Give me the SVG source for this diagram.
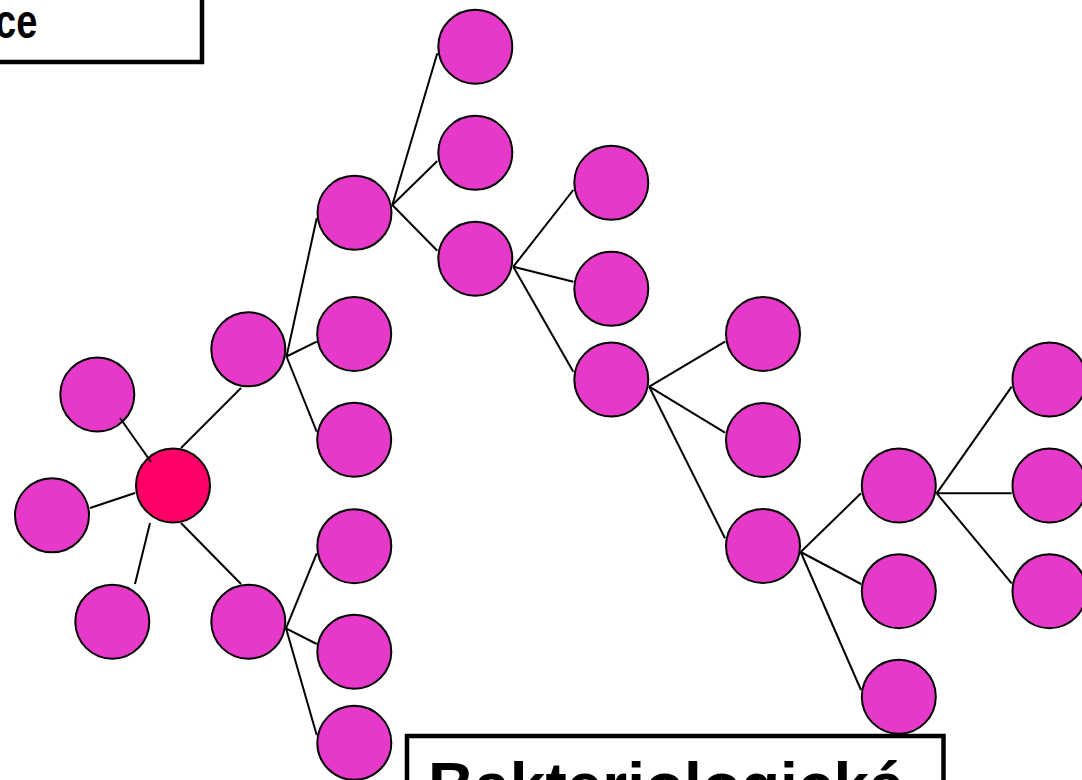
<svg xmlns="http://www.w3.org/2000/svg" width="1082" height="780" viewBox="0 0 1082 780">
<style>
.n{fill:#E639C9;stroke:#000;stroke-width:2}
.root{fill:#FF0066;stroke:#000;stroke-width:2}
.c line{stroke:#000;stroke-width:2}
.box{fill:#fff;stroke:#000;stroke-width:4.5}
.t{font-family:"Liberation Sans",Arial,sans-serif;font-weight:bold;fill:#000}
</style>
<rect width="1082" height="780" fill="#fff"/>
<g id="nodes">
<g id="n-root"><circle class="root" cx="173" cy="485.5" r="37"/></g>
<g id="n-a1"><circle class="n" cx="97.3" cy="394.5" r="37"/></g>
<g id="n-a2"><circle class="n" cx="52" cy="515.3" r="37"/></g>
<g id="n-a3"><circle class="n" cx="112.3" cy="621.7" r="37"/></g>
<g id="n-b1"><circle class="n" cx="248.3" cy="349.3" r="37"/></g>
<g id="n-b2"><circle class="n" cx="248.3" cy="621.7" r="37"/></g>
<g id="n-c1"><circle class="n" cx="354.5" cy="212.8" r="37"/></g>
<g id="n-c2"><circle class="n" cx="354.2" cy="334" r="37"/></g>
<g id="n-c3"><circle class="n" cx="354.2" cy="439.7" r="37"/></g>
<g id="n-c4"><circle class="n" cx="354.3" cy="546.2" r="37"/></g>
<g id="n-c5"><circle class="n" cx="354.3" cy="651.7" r="37"/></g>
<g id="n-c6"><circle class="n" cx="354.3" cy="742.8" r="37"/></g>
<g id="n-d1"><circle class="n" cx="475.3" cy="46.7" r="37"/></g>
<g id="n-d2"><circle class="n" cx="475.3" cy="152.8" r="37"/></g>
<g id="n-d3"><circle class="n" cx="475.3" cy="258.7" r="37"/></g>
<g id="n-e1"><circle class="n" cx="611.3" cy="182.8" r="37"/></g>
<g id="n-e2"><circle class="n" cx="611.3" cy="288.8" r="37"/></g>
<g id="n-e3"><circle class="n" cx="611.3" cy="379.5" r="37"/></g>
<g id="n-f1"><circle class="n" cx="763" cy="334" r="37"/></g>
<g id="n-f2"><circle class="n" cx="763" cy="440" r="37"/></g>
<g id="n-f3"><circle class="n" cx="763" cy="546" r="37"/></g>
<g id="n-g1"><circle class="n" cx="898.8" cy="485.5" r="37"/></g>
<g id="n-g2"><circle class="n" cx="898.8" cy="591.2" r="37"/></g>
<g id="n-g3"><circle class="n" cx="898.8" cy="696.7" r="37"/></g>
<g id="n-h1"><circle class="n" cx="1049.5" cy="379.5" r="37"/></g>
<g id="n-h2"><circle class="n" cx="1049.5" cy="485.5" r="37"/></g>
<g id="n-h3"><circle class="n" cx="1049.5" cy="591.2" r="37"/></g>
</g>
<g id="connectors" class="c">
<line x1="120" y1="418" x2="151" y2="462"/>
<line x1="90" y1="508" x2="135" y2="493"/>
<line x1="150" y1="523" x2="135" y2="584"/>
<line x1="181" y1="448" x2="241" y2="388"/>
<line x1="181" y1="523" x2="241" y2="584"/>
<line x1="286.5" y1="356.5" x2="316.7" y2="218.3"/>
<line x1="286.5" y1="356.5" x2="316.7" y2="341.7"/>
<line x1="286.5" y1="356.5" x2="316.7" y2="431.7"/>
<line x1="286" y1="628.3" x2="316.7" y2="553.3"/>
<line x1="286" y1="628.3" x2="316.7" y2="644"/>
<line x1="286" y1="628.3" x2="316.7" y2="735"/>
<line x1="392.3" y1="205" x2="437.3" y2="53.3"/>
<line x1="392.3" y1="205" x2="437.3" y2="161"/>
<line x1="392.3" y1="205" x2="437.3" y2="250.7"/>
<line x1="513.3" y1="266.7" x2="573.3" y2="190"/>
<line x1="513.3" y1="266.7" x2="573.3" y2="281.7"/>
<line x1="513.3" y1="266.7" x2="573.3" y2="371.7"/>
<line x1="649.3" y1="386.7" x2="725" y2="341.7"/>
<line x1="649.3" y1="386.7" x2="725" y2="432.7"/>
<line x1="649.3" y1="386.7" x2="725" y2="538.3"/>
<line x1="800.7" y1="552" x2="861" y2="493.3"/>
<line x1="800.7" y1="552" x2="861" y2="584"/>
<line x1="800.7" y1="552" x2="861" y2="690"/>
<line x1="936.7" y1="493.3" x2="1011.7" y2="386.7"/>
<line x1="936.7" y1="493.3" x2="1011.7" y2="493.3"/>
<line x1="936.7" y1="493.3" x2="1011.7" y2="583.3"/>
</g>
<g id="label-top">
<rect class="box" x="-10" y="-10" width="212" height="72"/>
<text class="t" transform="translate(-5,38) scale(1,1.25)" x="0" y="0" font-size="38">ce</text>
</g>
<g id="label-bottom">
<rect class="box" x="407" y="736" width="536.5" height="80"/>
<text class="t" x="428" y="808" font-size="64">Bakteriologická</text>
</g>
</svg>
